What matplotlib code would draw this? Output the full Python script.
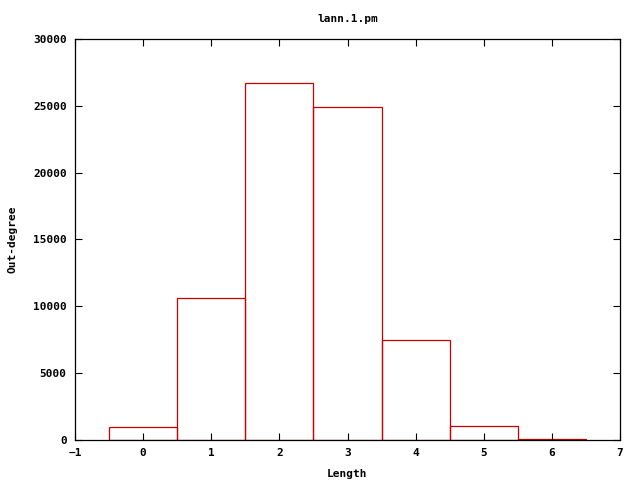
import matplotlib
matplotlib.use("Agg")
import matplotlib.pyplot as plt

lengths = [0, 1, 2, 3, 4, 5, 6]
counts = [970, 10620, 26680, 24880, 7480, 1050, 70]
xticks = [-1, 0, 1, 2, 3, 4, 5, 6, 7]
yticks = [0, 5000, 10000, 15000, 20000, 25000, 30000]

plt.rcParams['font.family'] = ['DejaVu Sans Mono']
plt.rcParams['font.weight'] = 'bold'
plt.rcParams['font.size'] = 8

fig = plt.figure(figsize=(6.4, 4.8), dpi=100)
ax = fig.add_axes([75/640, 40/480, 545/640, 401/480])
ax.bar(lengths, counts, width=1.0, fill=False, edgecolor='#cc0000', linewidth=0.9)
ax.set_xlim(-1, 7)
ax.set_ylim(0, 30000)
ax.set_xticks(xticks)
ax.set_yticks(yticks)
ax.tick_params(direction='in', top=True, right=True, length=5, width=0.8, pad=6)
for s in ax.spines.values():
    s.set_linewidth(0.9)
ax.set_xlabel('Length', fontweight='bold', labelpad=8, fontsize=8)
ax.set_ylabel('Out-degree', fontweight='bold', labelpad=11, fontsize=8)
ax.set_title('lann.1.pm', fontweight='bold', pad=12, fontsize=8)
fig.savefig('out.png', dpi=100)
